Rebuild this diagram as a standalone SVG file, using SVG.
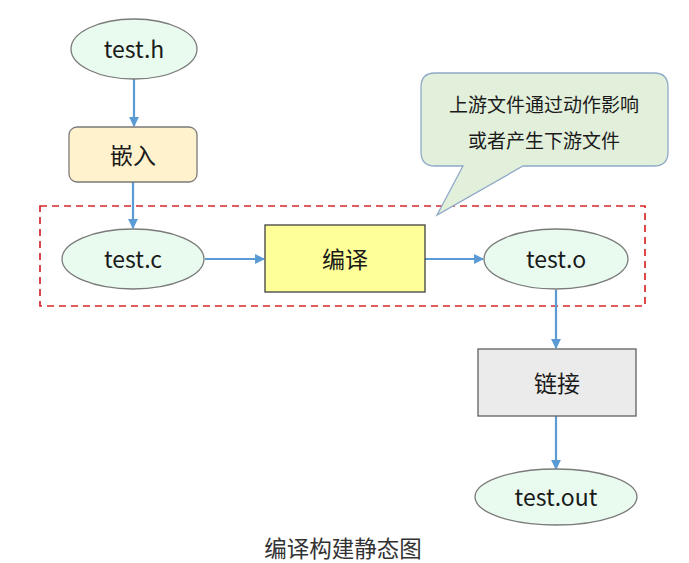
<svg xmlns="http://www.w3.org/2000/svg" width="689" height="563" viewBox="0 0 689 563">
<style>
text{font-family:"Noto Sans CJK SC","Noto Sans","Open Sans",sans-serif;fill:#1a1a1a;text-anchor:middle;dominant-baseline:central}
.lbl{font-size:23px}
.ell{fill:#E9FBEF;stroke:#7a7a7a;stroke-width:1.3}
.conn{stroke:#5B9BD5;stroke-width:2.2;fill:none;marker-end:url(#arr)}
</style>
<defs>
<marker id="arr" viewBox="0 0 10 10" refX="9" refY="5" markerWidth="4.5" markerHeight="4.5" orient="auto" markerUnits="strokeWidth">
<path d="M0,0 L10,5 L0,10 z" fill="#5B9BD5"/>
</marker>
</defs>
<rect width="689" height="563" fill="#ffffff"/>
<g id="group-compile">
<rect x="40" y="206" width="605" height="100" fill="none" stroke="#D62728" stroke-width="1.7" stroke-dasharray="7,5"/>
</g>
<g id="callout">
<path d="M435,73 H654 Q668,73 668,87 V152 Q668,166 654,166 H523 L437,215 L463,166 H435 Q421,166 421,152 V87 Q421,73 435,73 Z" fill="#E2EFDA" stroke="#8EA9C8" stroke-width="1.3"/>
<text x="544" y="103" style="font-size:19px">上游文件通过动作影响</text>
<text x="544" y="139" style="font-size:19px">或者产生下游文件</text>
</g>
<g id="connectors">
<line class="conn" x1="134" y1="79" x2="134" y2="126"/>
<line class="conn" x1="133" y1="182" x2="133" y2="228"/>
<line class="conn" x1="205" y1="259" x2="264" y2="259"/>
<line class="conn" x1="425" y1="259" x2="483" y2="259"/>
<line class="conn" x1="556" y1="290" x2="556" y2="348"/>
<line class="conn" x1="556" y1="416" x2="556" y2="469"/>
</g>
<g id="node-test-h">
<ellipse class="ell" cx="134" cy="49" rx="63" ry="30"/>
<text class="lbl" x="134" y="48">test.h</text>
</g>
<g id="node-embed">
<rect x="69" y="127" width="128" height="55" rx="8" fill="#FFF2CC" stroke="#7a7a7a" stroke-width="1.3"/>
<text class="lbl" x="133" y="154">嵌入</text>
</g>
<g id="node-test-c">
<ellipse class="ell" cx="133" cy="259" rx="71" ry="30"/>
<text class="lbl" x="133" y="258">test.c</text>
</g>
<g id="node-compile">
<rect x="265" y="225" width="160" height="67" fill="#FFFF99" stroke="#404040" stroke-width="1.3"/>
<text class="lbl" x="345" y="258">编译</text>
</g>
<g id="node-test-o">
<ellipse class="ell" cx="556" cy="259" rx="72" ry="30"/>
<text class="lbl" x="556" y="258">test.o</text>
</g>
<g id="node-link">
<rect x="478" y="349" width="158" height="67" fill="#EBEBEB" stroke="#606060" stroke-width="1.3"/>
<text class="lbl" x="557" y="382">链接</text>
</g>
<g id="node-test-out">
<ellipse class="ell" cx="556" cy="497" rx="81" ry="28"/>
<text class="lbl" x="556" y="496">test.out</text>
</g>
<text x="343" y="547" style="font-size:22.5px;fill:#333">编译构建静态图</text>
</svg>
